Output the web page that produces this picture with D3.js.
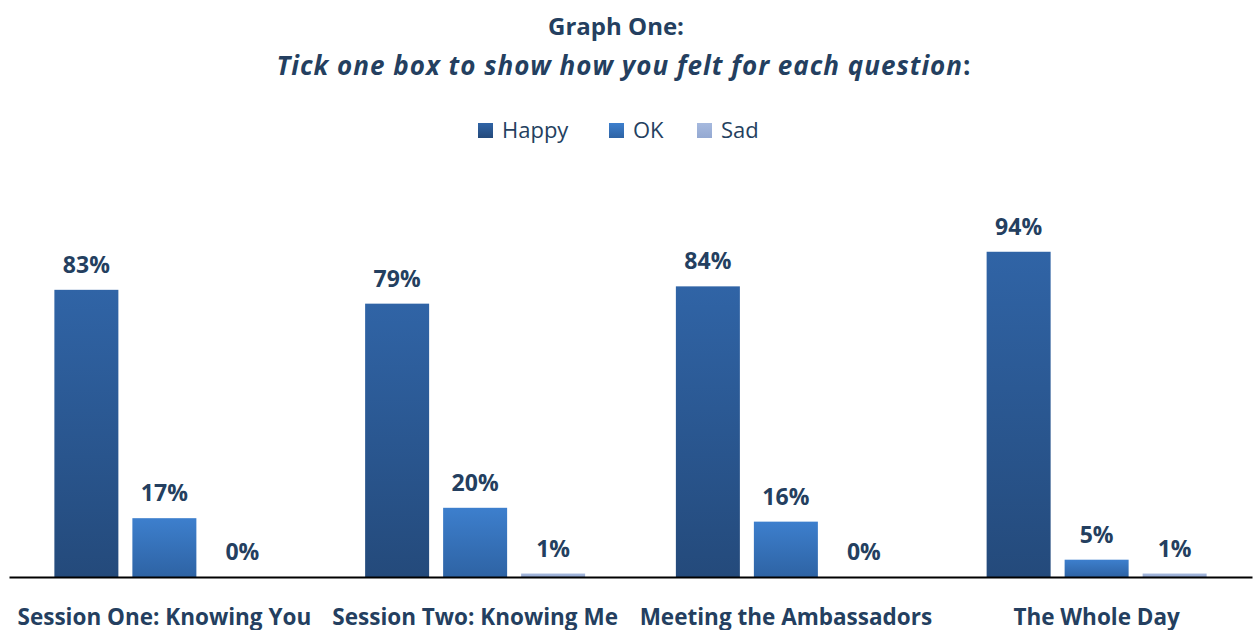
<!DOCTYPE html>
<html>
<head>
<meta charset="utf-8">
<script src="https://cdn.jsdelivr.net/npm/d3@7/dist/d3.min.js"></script>
<style>
  html, body { margin: 0; padding: 0; background: #fff; }
  svg { display: block; font-family: "Open Sans", Lato, sans-serif; }
</style>
</head>
<body>
<svg id="chart" width="1256" height="630"></svg>
<script>
// Survey responses, percent of respondents
const categories = ["Session One: Knowing You", "Session Two: Knowing Me", "Meeting the Ambassadors", "The Whole Day"];
const seriesNames = ["Happy", "OK", "Sad"];
const happy = [83, 79, 84, 94];
const ok = [17, 20, 16, 5];
const sad = [0, 1, 0, 1];

const seriesValues = [happy, ok, sad];
const textColor = "#243f60";

const svg = d3.select("#chart");
const defs = svg.append("defs");

// Vertical gradients for each series
const gradStops = [
  ["#3064a6", "#244a7b"],
  ["#3d7fcd", "#2e63a4"],
  ["#a6b9de", "#94a9d2"]
];
gradStops.forEach((s, i) => {
  const g = defs.append("linearGradient")
    .attr("id", "grad" + i)
    .attr("x1", 0).attr("y1", 0).attr("x2", 0).attr("y2", 1);
  g.append("stop").attr("offset", "0%").attr("stop-color", s[0]);
  g.append("stop").attr("offset", "100%").attr("stop-color", s[1]);
});

const plot = { left: 9, right: 1252, top: 231, bottom: 577 };

const x0 = d3.scaleBand()
  .domain(categories)
  .range([plot.left, plot.right])
  .paddingInner(0)
  .paddingOuter(0);

const groupWidth = 220;
const x1 = d3.scaleBand()
  .domain(seriesNames)
  .range([0, groupWidth])
  .paddingInner(14 / 78)
  .paddingOuter(0);

const y = d3.scaleLinear().domain([0, 100]).range([plot.bottom, plot.top]);

// Title
svg.append("text")
  .attr("x", 616).attr("y", 35)
  .attr("text-anchor", "middle")
  .attr("fill", textColor)
  .attr("font-weight", "bold")
  .attr("font-size", 24)
  .text("Graph One:");

const sub = svg.append("text")
  .attr("x", 624).attr("y", 75)
  .attr("text-anchor", "middle")
  .attr("fill", textColor)
  .attr("font-weight", "bold")
  .attr("font-size", 26)
  .attr("letter-spacing", 1);
sub.append("tspan").attr("font-style", "italic").text("Tick one box to show how you felt for each question");
sub.append("tspan").text(":");

// Legend
const legendX = [478, 609, 697];
const legend = svg.append("g");
seriesNames.forEach((name, i) => {
  legend.append("rect")
    .attr("x", legendX[i]).attr("y", 123)
    .attr("width", 15).attr("height", 15)
    .attr("fill", `url(#grad${i})`);
  legend.append("text")
    .attr("x", legendX[i] + 24).attr("y", 138)
    .attr("fill", textColor)
    .attr("font-size", 22)
    .text(name);
});

// Bars and value labels
const groups = svg.append("g").selectAll("g")
  .data(categories)
  .join("g")
  .attr("transform", c => `translate(${x0(c) + (x0.bandwidth() - groupWidth) / 2},0)`);

seriesNames.forEach((name, si) => {
  groups.append("rect")
    .attr("x", x1(name))
    .attr("width", x1.bandwidth())
    .attr("y", (c, ci) => y(seriesValues[si][ci]))
    .attr("height", (c, ci) => y(0) - y(seriesValues[si][ci]))
    .attr("fill", `url(#grad${si})`);

  groups.append("text")
    .attr("x", x1(name) + x1.bandwidth() / 2)
    .attr("y", (c, ci) => y(seriesValues[si][ci]) - 17)
    .attr("text-anchor", "middle")
    .attr("fill", textColor)
    .attr("font-weight", "bold")
    .attr("font-size", 23)
    .text((c, ci) => seriesValues[si][ci] + "%");
});

// Category axis
const xAxis = svg.append("g")
  .attr("transform", `translate(0,${plot.bottom})`)
  .call(d3.axisBottom(x0).tickSize(0).tickPadding(32));
xAxis.select(".domain").attr("stroke", "#000").attr("stroke-width", 2);
xAxis.selectAll("text")
  .attr("fill", textColor)
  .attr("font-weight", "bold")
  .attr("font-size", 22.5)
  .attr("font-family", "'Open Sans', Lato, sans-serif");
</script>
</body>
</html>
